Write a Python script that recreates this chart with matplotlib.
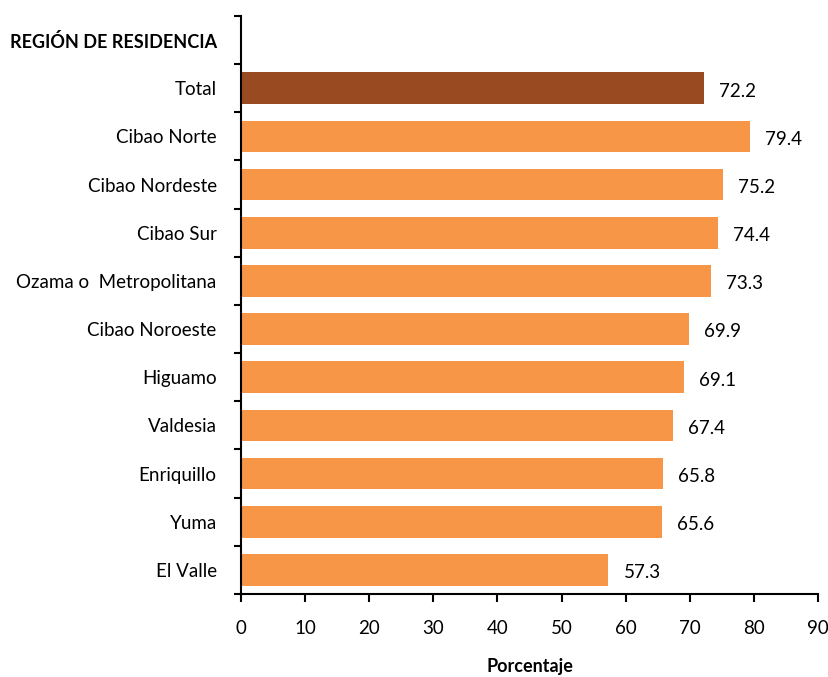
import numpy as np
import matplotlib.pyplot as plt
from matplotlib.ticker import FixedLocator, NullFormatter

plt.rcParams['font.family'] = ['Lato', 'DejaVu Sans']

# data (top to bottom)
regiones = ["Total", "Cibao Norte", "Cibao Nordeste", "Cibao Sur",
            "Ozama o  Metropolitana", "Cibao Noroeste", "Higuamo",
            "Valdesia", "Enriquillo", "Yuma", "El Valle"]
valores = [72.2, 79.4, 75.2, 74.4, 73.3, 69.9, 69.1, 67.4, 65.8, 65.6, 57.3]
encabezado = "REGIÓN DE RESIDENCIA"
xticks = [0, 10, 20, 30, 40, 50, 60, 70, 80, 90]

n = len(regiones)
ypos = np.arange(n)[::-1]  # Total at top (slot n-1), header slot at n
colores = ['#9A4A20'] + ['#F79646'] * (n - 1)

fig = plt.figure(figsize=(8.29, 6.77), dpi=100)
ax = fig.add_axes([0.2907, 0.1226, 0.696, 0.8538])

ax.barh(ypos, valores, height=0.66, color=colores, zorder=2)

for y, v in zip(ypos, valores):
    ax.annotate("{:.1f}".format(v), xy=(v, y), xytext=(11, -2),
                textcoords='offset points', va='center', ha='left',
                fontsize=13.5, color='black')

ax.set_xlim(0, 90)
ax.set_ylim(-0.5, n + 0.5)

# y labels (header + categories), tick marks at boundaries
ax.set_yticks(list(ypos) + [n])
labs = ax.set_yticklabels(list(regiones) + [encabezado], fontsize=13.5)
labs[-1].set_fontweight('bold')
labs[-1].set_fontsize(13)
ax.tick_params(axis='y', which='major', length=0, pad=17.5)
ax.yaxis.set_minor_locator(FixedLocator(np.arange(-0.5, n + 1, 1.0)))
ax.yaxis.set_minor_formatter(NullFormatter())
ax.tick_params(axis='y', which='minor', length=5, width=1.5, direction='out')

ax.set_xticks(xticks)
ax.set_xticklabels([str(t) for t in xticks], fontsize=13.5)
ax.tick_params(axis='x', length=6, width=1.5, direction='out', pad=13)

ax.set_xlabel("Porcentaje", fontsize=13, fontweight='bold', labelpad=15)

for s in ['top', 'right']:
    ax.spines[s].set_visible(False)
for s in ['left', 'bottom']:
    ax.spines[s].set_linewidth(1.5)

fig.savefig("out.png", dpi=100)
